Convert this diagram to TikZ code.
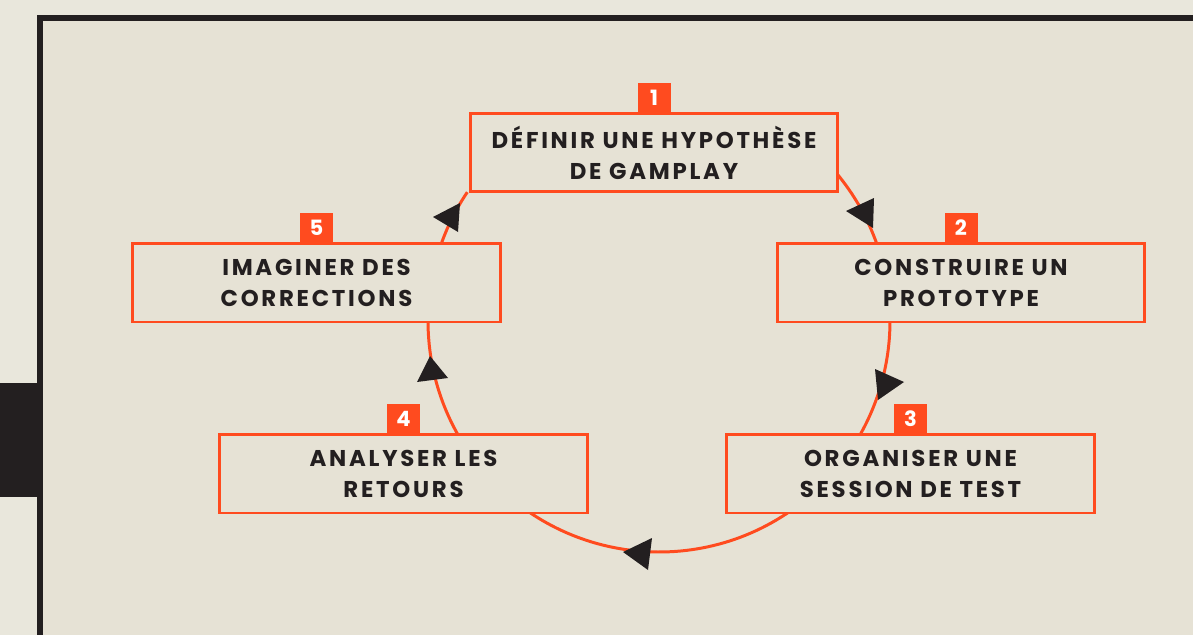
\documentclass[tikz,border=0pt]{standalone}
\usepackage{fontspec}
\setmainfont{Poppins}
\usepackage{tikz}
\usetikzlibrary{positioning}

\definecolor{paper}{HTML}{E6E2D5}
\definecolor{margin}{HTML}{E9E7DC}
\definecolor{ink}{HTML}{231F20}
\definecolor{flame}{HTML}{FF4B1F}

\tikzset{
  stepbox/.style={draw=flame, line width=1.7pt, fill=paper, text=ink,
    minimum width=7.36cm, minimum height=1.58cm, align=center,
    font=\fontsize{13}{17.6}\selectfont\bfseries\addfontfeatures{LetterSpace=12}},
  badge/.style={fill=flame, text=white, inner sep=0pt,
    minimum width=0.66cm, minimum height=0.6cm,
    font=\fontsize{12}{12}\selectfont\bfseries},
  tip/.style={fill=ink}
}

\begin{document}
\begin{tikzpicture}[x=0.02cm, y=-0.02cm]
\useasboundingbox (0,0) rectangle (1193,635);

% Background and frame
\fill[margin] (0,0) rectangle (1193,635);
\fill[paper] (40,18) rectangle (1193,635);
\fill[ink] (0,383) rectangle (41,497);
\draw[ink, line width=0.11cm] (1193,18) -- (40,18) -- (40,635);

% Cycle (open at the top, under step 1)
\coordinate (c) at (659,321);
\draw[flame, line width=1.7pt] (c) ++(-39.2:231) arc[start angle=-39.2, end angle=213.9, radius=231];

% Steps
\node[stepbox] (s1) at (654,152.5) {DÉFINIR UNE HYPOTHÈSE\\DE GAMPLAY};
\node[stepbox] (s2) at (961,282.5) {CONSTRUIRE UN\\PROTOTYPE};
\node[stepbox] (s3) at (910.5,473.5) {ORGANISER UNE\\SESSION DE TEST};
\node[stepbox] (s4) at (403.5,473.5) {ANALYSER LES\\RETOURS};
\node[stepbox] (s5) at (316.5,282.5) {IMAGINER DES\\CORRECTIONS};

% Numbers
\node[badge, above=-1pt of s1] (n1) {1};
\node[badge, above=-1pt of s2] (n2) {2};
\node[badge, above=-1pt of s3] (n3) {3};
\node[badge, above=-1pt of s4] (n4) {4};
\node[badge, above=-1pt of s5] (n5) {5};

% Arrow heads
\fill[tip] (846,211) -- (874,198) -- (873,228) -- cycle;
\fill[tip] (904,382) -- (875,369) -- (878,400) -- cycle;
\fill[tip] (623,552) -- (652,538) -- (648,570) -- cycle;
\fill[tip] (430,356) -- (417,382) -- (448,378) -- cycle;
\fill[tip] (433,217) -- (460,203) -- (458,232) -- cycle;

\end{tikzpicture}
\end{document}
